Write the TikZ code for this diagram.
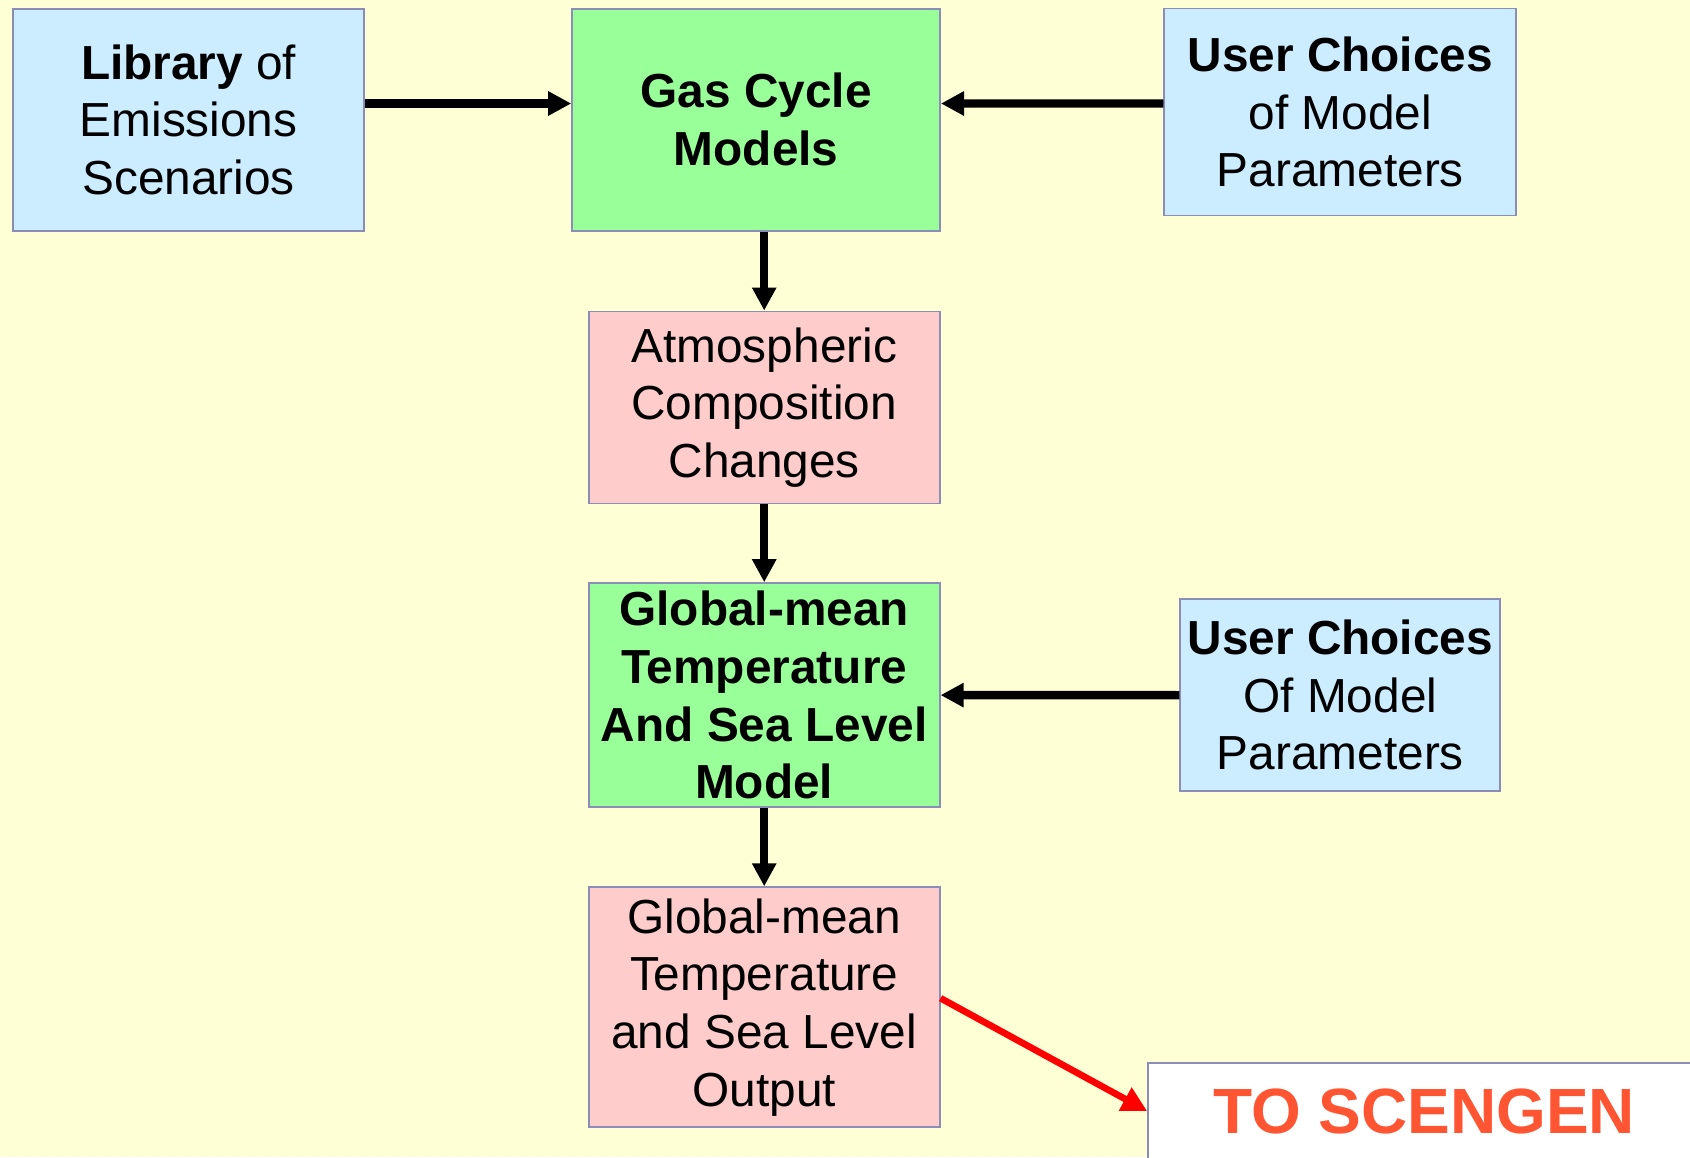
\documentclass[tikz,border=0pt]{standalone}
\usepackage{fontspec}
\setmainfont{Liberation Sans}
\usetikzlibrary{arrows.meta}

\definecolor{hgrund}{RGB}{255,255,213}
\definecolor{hblau}{RGB}{204,236,255}
\definecolor{hgruen}{RGB}{153,255,153}
\definecolor{hrosa}{RGB}{255,204,204}
\definecolor{rahmen}{RGB}{140,140,185}
\definecolor{scenrot}{RGB}{255,85,51}

\tikzset{
  kasten/.style={draw=rahmen, line width=0.5pt, inner sep=0pt, align=center,
    font=\fontsize{13.6}{16.4}\selectfont},
  pfeil/.style={line width=2.4pt, -{Triangle[length=2.3mm,width=2.3mm]}},
}

\begin{document}
\begin{tikzpicture}

  % Hintergrund
  \clip (0,0) rectangle (16.9,-11.57);
  \fill[hgrund] (0,0) rectangle (16.9,-11.57);

  % obere Reihe
  \node[kasten, fill=hblau, minimum width=3.51cm, minimum height=2.22cm] (lib) at (1.886,-1.197)
    {\textbf{Library} of\\Emissions\\Scenarios};
  \node[kasten, fill=hgruen, minimum width=3.68cm, minimum height=2.22cm] (gas) at (7.561,-1.197)
    {\textbf{Gas Cycle}\\\textbf{Models}};
  \node[kasten, fill=hblau, minimum width=3.52cm, minimum height=2.07cm] (wahl1) at (13.403,-1.121)
    {\textbf{User Choices}\\of Model\\Parameters};

  % mittlere Spalte
  \node[kasten, fill=hrosa, minimum width=3.51cm, minimum height=1.92cm] (atmos) at (7.642,-4.074)
    {Atmospheric\\Composition\\Changes};
  \node[kasten, fill=hgruen, minimum width=3.51cm, minimum height=2.24cm] (temp) at (7.642,-6.951)
    {\textbf{Global-mean}\\\textbf{Temperature}\\\textbf{And Sea Level}\\\textbf{Model}};
  \node[kasten, fill=hblau, minimum width=3.20cm, minimum height=1.92cm] (wahl2) at (13.403,-6.952)
    {\textbf{User Choices}\\Of Model\\Parameters};
  \node[kasten, fill=hrosa, minimum width=3.51cm, minimum height=2.40cm] (ausg) at (7.642,-10.072)
    {Global-mean\\Temperature\\and Sea Level\\Output};

  % SCENGEN
  \node[kasten, fill=white, minimum width=5.52cm, minimum height=0.966cm,
        text=scenrot, font=\fontsize{18.2}{21}\selectfont\bfseries] (scen) at (14.24,-11.11)
    {TO SCENGEN};

  % Pfeile
  \draw[pfeil] ([yshift=1.62mm]lib.east) -- ([yshift=1.62mm]gas.west);
  \draw[pfeil] ([yshift=0.86mm]wahl1.west) -- ([yshift=1.62mm]gas.east);
  \draw[pfeil] (gas.south -| atmos.north) -- (atmos.north);
  \draw[pfeil] (atmos.south) -- (temp.north);
  \draw[pfeil] (wahl2.west) -- (temp.east);
  \draw[pfeil] (temp.south) -- (ausg.north);
  \draw[red, line width=1.9pt, -{Triangle[length=2.5mm,width=2.5mm]}]
    ([yshift=0.9mm]ausg.east) -- (scen.west);

\end{tikzpicture}
\end{document}
